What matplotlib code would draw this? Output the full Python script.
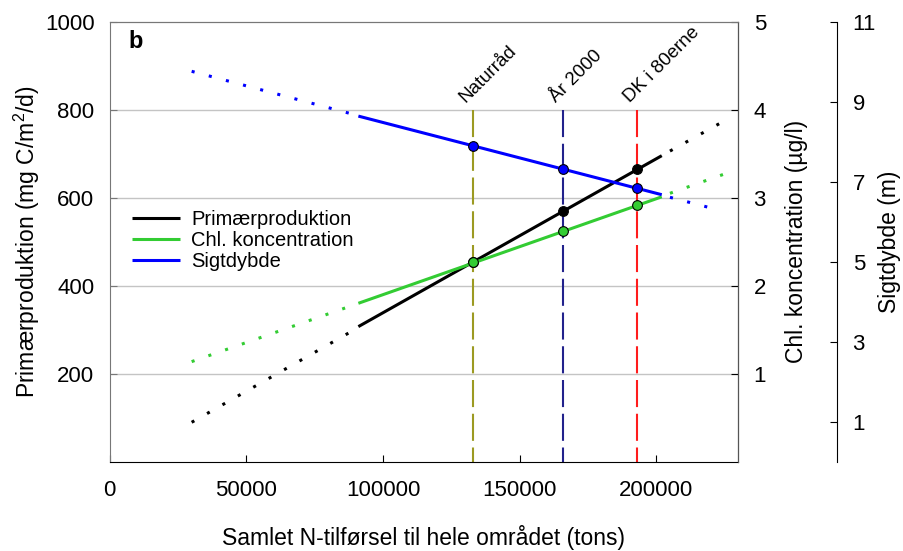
import matplotlib
matplotlib.use("Agg")
import matplotlib.pyplot as plt

plt.rcParams['font.family'] = ['Liberation Sans', 'DejaVu Sans']
plt.rcParams['mathtext.fontset'] = 'custom'
plt.rcParams['mathtext.rm'] = 'Liberation Sans'
plt.rcParams['mathtext.it'] = 'Liberation Sans:italic'

# N-load scenarios (tons)
scenario_x = [133000, 166000, 193000]
scenario_labels = ['Naturråd', 'År 2000', 'DK i 80erne']
scenario_colors = ['#9c9a22', '#22228c', '#ff1c1c']

# Primærproduktion (mg C/m2/d): dotted low end, fitted part, dotted high end
pp_low_x, pp_low = [30000, 88300], [89.5, 295.5]
pp_fit_x, pp_fit = [91000, 202000], [307.0, 695.5]
pp_high_x, pp_high = [205000, 225000], [706.0, 775.0]
pp_points = [454.0, 569.0, 664.5]

# Chl. koncentration (ug/l)
chl_low_x, chl_low = [30000, 88300], [1.137, 1.77]
chl_fit_x, chl_fit = [91000, 202000], [1.80, 3.01]
chl_high_x, chl_high = [205000, 225000], [3.05, 3.27]
chl_points = [2.27, 2.62, 2.92]

# Sigtdybde (m)
sd_low_x, sd_low = [30000, 88300], [9.76, 8.70]
sd_fit_x, sd_fit = [91000, 202000], [8.64, 6.675]
sd_high_x, sd_high = [205000, 223000], [6.61, 6.29]
sd_points = [7.90, 7.325, 6.83]

x_ticks = [0, 50000, 100000, 150000, 200000]
pp_ticks = [200, 400, 600, 800, 1000]
chl_ticks = [1, 2, 3, 4, 5]
sd_ticks = [1, 3, 5, 7, 9, 11]

BLACK = '#000000'
GREEN = '#33cc33'
BLUE = '#0000ff'
dotted = (0, (1, 4.8))

fig = plt.figure(figsize=(9.04, 5.51), dpi=100)
ax = fig.add_axes([0.1213, 0.1621, 0.6954, 0.7985])
ax2 = ax.twinx()
ax3 = ax.twinx()
ax3.spines['right'].set_position(('axes', 1.1575))

ax.set_xlim(0, 230000)
ax.set_ylim(0, 1000)
ax2.set_ylim(0, 5)
ax3.set_ylim(0, 11)

for g in pp_ticks[:-1]:
    ax.axhline(g, color='#c4c4c4', lw=1.0, zorder=0)

# scenario markers on the x axis
for xv, lab, col in zip(scenario_x, scenario_labels, scenario_colors):
    ax.plot([xv, xv], [800, 0], color=col, lw=1.5, dashes=(13, 3.2), zorder=1)
    ax.annotate(lab, xy=(xv, 800), xytext=(-5.5, 5), textcoords='offset points',
                rotation=45, rotation_mode='anchor', ha='left', va='baseline',
                fontsize=13.5)


def draw_series(a, lx, ly, fx, fy, hx, hy, px, py, color, label, mfc):
    a.plot(lx, ly, color=color, lw=2.2, linestyle=dotted, dash_capstyle='butt')
    a.plot(hx, hy, color=color, lw=2.2, linestyle=dotted, dash_capstyle='butt')
    line, = a.plot(fx, fy, color=color, lw=2.2, label=label, solid_capstyle='butt')
    a.plot(px, py, 'o', ms=7, mfc=mfc, mec='black', mew=0.8, zorder=5)
    return line


h1 = draw_series(ax, pp_low_x, pp_low, pp_fit_x, pp_fit, pp_high_x, pp_high,
                 scenario_x, pp_points, BLACK, 'Primærproduktion', BLACK)
h2 = draw_series(ax2, chl_low_x, chl_low, chl_fit_x, chl_fit, chl_high_x, chl_high,
                 scenario_x, chl_points, GREEN, 'Chl. koncentration', GREEN)
h3 = draw_series(ax3, sd_low_x, sd_low, sd_fit_x, sd_fit, sd_high_x, sd_high,
                 scenario_x, sd_points, BLUE, 'Sigtdybde', BLUE)

# spines and ticks
for s in ('left', 'top'):
    ax.spines[s].set_color('#777777')
ax.spines['bottom'].set_color('black')
ax2.spines['right'].set_color('#555555')
ax3.spines['right'].set_color('black')
for a in (ax, ax2):
    a.spines['top'].set_color('#777777')
ax3.spines['top'].set_visible(False)
ax3.spines['left'].set_visible(False)
ax3.spines['bottom'].set_visible(False)
ax2.spines['left'].set_visible(False)
ax2.spines['bottom'].set_visible(False)

ax.set_xticks(x_ticks)
ax.set_xticklabels([str(t) for t in x_ticks])
ax.set_yticks(pp_ticks)
ax2.set_yticks(chl_ticks)
ax3.set_yticks(sd_ticks)
ax.tick_params(axis='x', direction='in', length=5, pad=13, labelsize=16)
ax.tick_params(axis='y', direction='in', length=5, pad=11, labelsize=16, color='#777777')
ax2.tick_params(axis='y', direction='in', length=5, pad=11, labelsize=16)
ax3.tick_params(axis='y', direction='in', length=5, pad=11, labelsize=16)

ax.set_xlabel('Samlet N-tilførsel til hele området (tons)', fontsize=16.5)
ax.set_ylabel('Primærproduktion (mg C/m$^2$/d)', fontsize=16.5)
ax2.set_ylabel('Chl. koncentration (µg/l)', fontsize=16.5)
ax3.set_ylabel('Sigtdybde (m)', fontsize=16.5)
ax.xaxis.set_label_coords(0.5, -0.173)
ax.yaxis.set_label_coords(-0.1316, 0.5)
ax2.yaxis.set_label_coords(1.092, 0.5)
ax3.yaxis.set_label_coords(1.241, 0.5)
for lbl in (ax.xaxis.label, ax.yaxis.label, ax2.yaxis.label, ax3.yaxis.label):
    lbl.set_va('center')

ax.text(0.03, 0.982, 'b', transform=ax.transAxes, fontsize=17, fontweight='bold',
        ha='left', va='top')

ax3.legend([h1, h2, h3], ['Primærproduktion', 'Chl. koncentration', 'Sigtdybde'],
           loc='upper left', bbox_to_anchor=(0.035, 0.572), frameon=False,
           fontsize=14.5, handlelength=2.4, handletextpad=0.55, labelspacing=0.1,
           borderpad=0, borderaxespad=0)

fig.savefig('out.png', dpi=100)
